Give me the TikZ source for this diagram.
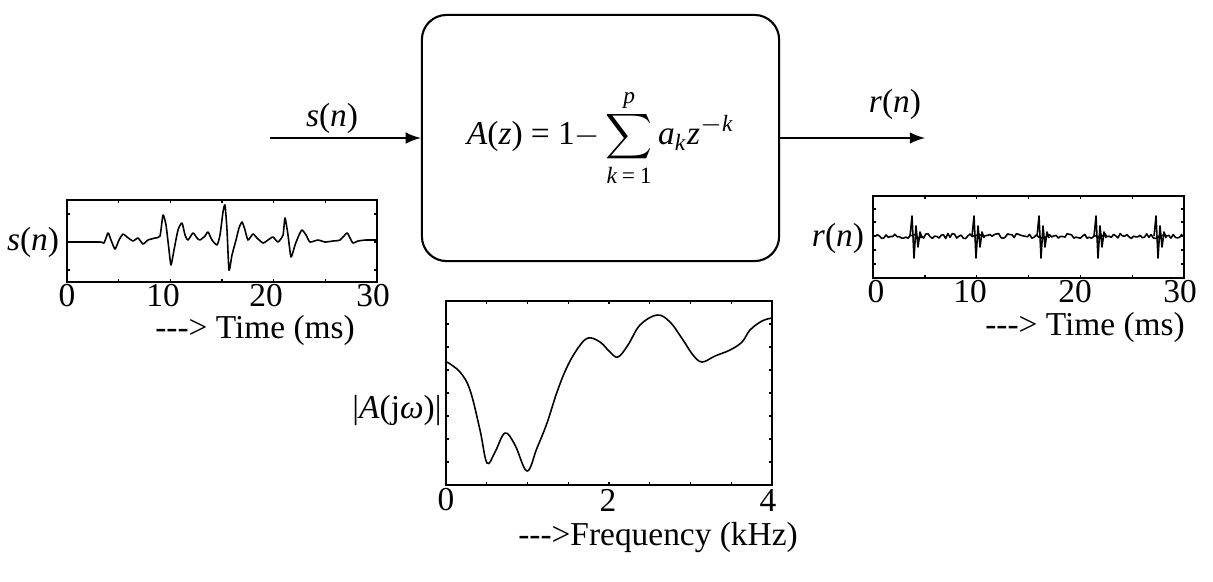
\documentclass[tikz,border=0pt]{standalone}
\usepackage{fontspec}
\setmainfont{Liberation Serif}
\usepackage{amsmath}

\tikzset{
  wave/.style={line width=0.45pt, line join=round},
  frame/.style={line width=0.6pt},
  tick/.style={line width=0.4pt},
  lbl/.style={font=\fontsize{9.5}{11}\selectfont, inner sep=1pt},
}

\begin{document}
\begin{tikzpicture}[x=0.01cm, y=-0.01cm, >=latex]
\useasboundingbox (0,0) rectangle (1213,581);

% filter block
\node[draw, line width=0.6pt, rounded corners=7pt, minimum width=3.57cm, minimum height=2.46cm, lbl] (filter) at (600.5,138)
  {\textit{A}(\textit{z}) = 1$-\displaystyle\sum_{\textit{k}\,\textup{=}\,\textup{1}}^{\textit{p}}$\,\textit{a}$_{\textit{k}}$\textit{z}$^{-\textit{k}}$};
\coordinate (sin) at (270,138);
\coordinate (rout) at (925,138);
\draw[->, line width=0.5pt] (sin) -- (filter.west);
\draw[->, line width=0.5pt] (filter.east) -- (rout);
\node[lbl] (slab) at (332,118) {\textit{s}(\textit{n})};
\node[lbl] (rlab) at (895,104) {\textit{r}(\textit{n})};

% input signal s(n)
\draw[frame] (67,200) rectangle (377,282);
\foreach \t in {0,5,...,30} {
  \draw[tick] ({67+10.33*\t},282) -- ++(0,-3);
  \draw[tick] ({67+10.33*\t},200) -- ++(0,3);
}
\foreach \v in {214,242,270} {
  \draw[tick] (67,\v) -- ++(3,0);
  \draw[tick] (377,\v) -- ++(-3,0);
}
\draw[wave] plot[smooth, tension=0.35] coordinates {(68,242) (100,242) (104,243) (108,233) (111,240) (115,249) (119,240) (123,234)
  (127,237) (133,241) (138,238) (143,244) (148,240) (155,238) (160,236) (163,215) (166,225) (169,250)
  (171,265) (174,250) (178,230) (182,223) (185,235) (188,240) (193,233) (197,238) (200,240) (205,236)
  (208,232) (212,240) (217,245) (220,235) (223,212) (225,205) (227,230) (229,270) (232,255) (236,240)
  (239,228) (242,222) (245,230) (248,240) (253,234) (257,238) (263,243) (268,240) (273,237) (278,242)
  (283,235) (285,218) (288,235) (291,257) (295,245) (299,235) (302,230) (306,235) (310,242) (318,240)
  (325,242) (333,241) (340,240) (347,233) (350,238) (353,243) (358,241) (366,240) (377,240)};
\foreach \t/\p in {0/67,10/163,20/266,30/373}
  \node[lbl] (sx\t) at (\p,296) {\t};
\node[lbl] (sname) at (33,242) {\textit{s}(\textit{n})};
\node[lbl] (stime) at (255,330) {-{}-{}-> Time (ms)};

% residual r(n)
\draw[frame] (873,196) rectangle (1184,278);
\foreach \t in {0,5,...,30} {
  \draw[tick] ({873+10.37*\t},278) -- ++(0,-3);
  \draw[tick] ({873+10.37*\t},196) -- ++(0,3);
}
\foreach \v in {209,222,236,250,264} {
  \draw[tick] (873,\v) -- ++(3,0);
  \draw[tick] (1184,\v) -- ++(-3,0);
}
\pgfmathsetseed{7}
\draw[wave] plot[domain=875:1182, samples=140] (\x,{236+2.5*rand});
\foreach \p in {913,975,1040,1097,1157}
  \draw[wave] (\p-3,236) -- (\p-1,216) -- (\p+1,258) -- (\p+3,226) -- (\p+5,247) -- (\p+7,232) -- (\p+9,238);
\foreach \t/\p in {0/876,10/970,20/1075,30/1180}
  \node[lbl] (rx\t) at (\p,292) {\t};
\node[lbl] (rname) at (838,238) {\textit{r}(\textit{n})};
\node[lbl] (rtime) at (1085,327) {-{}-{}-> Time (ms)};

% magnitude response
\draw[frame] (446,301) rectangle (772,485);
\foreach \k in {0,...,8} {
  \draw[tick] ({446+40.75*\k},485) -- ++(0,-3);
  \draw[tick] ({446+40.75*\k},301) -- ++(0,3);
}
\foreach \v in {324,347,370,393,416,439,462} {
  \draw[tick] (446,\v) -- ++(3,0);
  \draw[tick] (772,\v) -- ++(-3,0);
}
\draw[wave] plot[smooth, tension=0.6] coordinates {(447,362) (460,372) (470,390) (480,430) (487,463)
  (495,452) (505,433) (515,445) (527,471) (537,448) (547,423) (557,392) (567,367) (578,348) (588,338)
  (600,342) (610,352) (618,357) (628,345) (640,325) (657,315) (670,322) (683,340) (693,355) (702,362)
  (715,356) (730,350) (742,342) (750,330) (762,321) (772,318)};
\foreach \t/\p in {0/446,2/608,4/768}
  \node[lbl] (fx\t) at (\p,500) {\t};
\node[lbl] (aname) at (397,410) {|\textit{A}(j\textit{ω})|};
\node[lbl] (ffreq) at (658,537) {-{}-{}->Frequency (kHz)};
\end{tikzpicture}
\end{document}
